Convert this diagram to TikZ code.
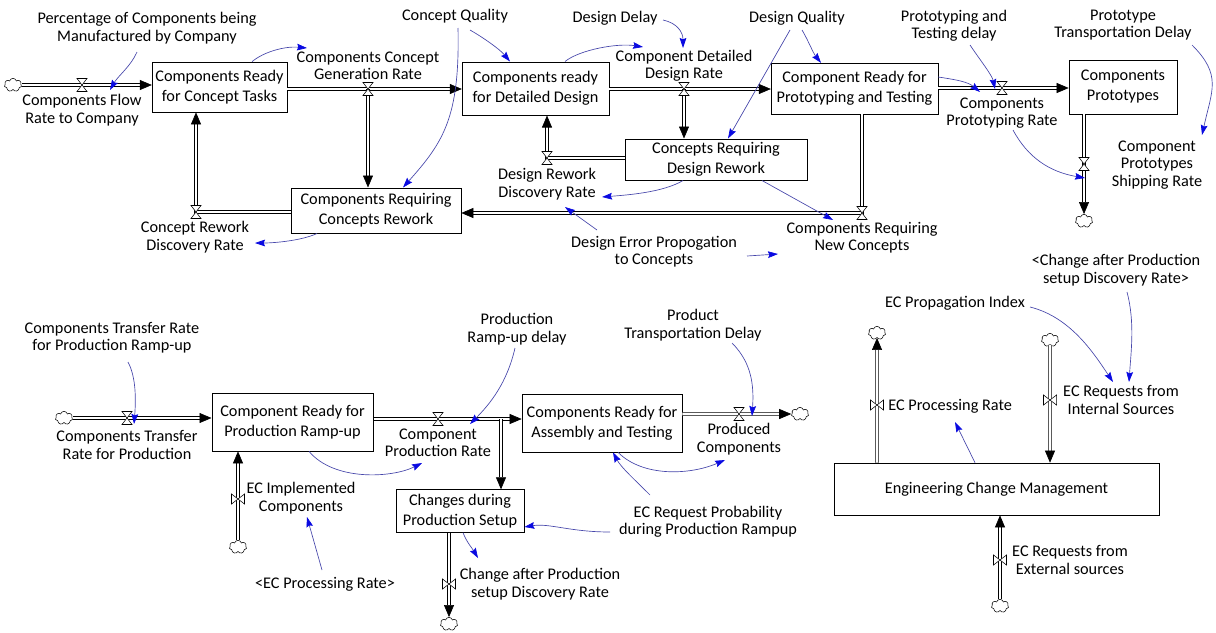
\documentclass[tikz,border=0pt]{standalone}
\usepackage{fontspec}
\setmainfont{Carlito}
\usetikzlibrary{arrows.meta,shapes.symbols}
\definecolor{linkline}{RGB}{70,70,170}
\definecolor{linkhead}{RGB}{10,10,225}

\begin{document}
\begin{tikzpicture}[x=0.75pt, y=-0.75pt,
    stock/.style={rectangle, draw, fill=white, line width=0.5pt, align=center, inner sep=1pt, font=\fontsize{12.2}{15}\selectfont},
    lbl/.style={align=center, inner sep=0pt, font=\fontsize{12.2}{13}\selectfont},
    pipe/.style={draw, line width=0.45pt, double=white, double distance=2pt, -{Triangle[length=9pt,width=7.5pt]}},
    infl/.style={draw=linkline, line width=0.5pt, -{Stealth[length=7.5pt,width=5pt,inset=1pt,color=linkhead]}},
    cloudy/.style={cloud, cloud puffs=7, draw, fill=white, line width=0.4pt, minimum width=13pt, minimum height=10pt, inner sep=0pt},
    valveh/.pic={\draw[fill=white, line width=0.4pt] (-5,-6.5) -- (5,-6.5) -- (-5,6.5) -- (5,6.5) -- cycle;},
    valvev/.pic={\draw[fill=white, line width=0.4pt] (-6.5,-5) -- (-6.5,5) -- (6.5,-5) -- (6.5,5) -- cycle;},
]
\useasboundingbox (0,0) rectangle (1216,632);

% Concept and design stocks
\node[stock, minimum width=101pt, minimum height=37.5pt] (cct) at (219.5,87) {Components Ready\\for Concept Tasks};
\node[stock, minimum width=110pt, minimum height=40pt] (crdd) at (535.5,88.5) {Components ready\\for Detailed Design};
\node[stock, minimum width=125pt, minimum height=38pt] (crpt) at (854.5,88.5) {Component Ready for\\Prototyping and Testing};
\node[stock, minimum width=81pt, minimum height=40.5pt] (cpro) at (1123,87) {Components\\Prototypes};
\node[stock, minimum width=136.5pt, minimum height=31pt] (crdr) at (716,159.5) {Concepts Requiring\\Design Rework};
\node[stock, minimum width=127.5pt, minimum height=34pt] (crcr) at (376,210.5) {Components Requiring\\Concepts Rework};

% Production stocks
\node[stock, minimum width=121pt, minimum height=43.5pt] (crpr) at (292.5,422) {Component Ready for\\Production Ramp-up};
\node[stock, minimum width=120pt, minimum height=43.5pt] (crat) at (602,423) {Components Ready for\\Assembly and Testing};
\node[stock, minimum width=96pt, minimum height=32pt] (cdps) at (460,511) {Changes during\\Production Setup};
\node[stock, minimum width=244pt, minimum height=39pt] (ecm) at (996.5,489) {Engineering Change Management};

% Clouds
\node[cloudy] (k1) at (13,85) {};
\node[cloudy] (k2) at (1084,221) {};
\node[cloudy] (k3) at (64,418) {};
\node[cloudy] (k4) at (800,414) {};
\node[cloudy] (k5) at (238,547) {};
\node[cloudy] (k6) at (449,624) {};
\node[cloudy] (k7) at (877,333) {};
\node[cloudy] (k8) at (1050,340) {};
\node[cloudy] (k9) at (1000,606) {};

% Valves
\coordinate (vFlow) at (82,85);
\coordinate (vGen) at (368,89);
\coordinate (vConRew) at (196,212);
\coordinate (vDet) at (684,89);
\coordinate (vDesRew) at (547,158);
\coordinate (vNewCon) at (862,213);
\coordinate (vProto) at (1002,88);
\coordinate (vShip) at (1084,164);
\coordinate (vTransfer) at (127,418);
\coordinate (vProd) at (438,419);
\coordinate (jProd) at (501,419);
\coordinate (vProduced) at (739,414);
\coordinate (vECImpl) at (238,499);
\coordinate (vChange) at (449,584);
\coordinate (vECProc) at (877,405);
\coordinate (vECInt) at (1050,400);
\coordinate (vECExt) at (1000,560);

% Rate labels
\node[lbl] (lFlowRate) at (82,110) {Components Flow\\Rate to Company};
\node[lbl] (lGenRate) at (368,66) {Components Concept\\Generation Rate};
\node[lbl] (lConRew) at (195,237) {Concept Rework\\Discovery Rate};
\node[lbl] (lDetRate) at (684,66) {Component Detailed\\Design Rate};
\node[lbl] (lDesRew) at (547,184) {Design Rework\\Discovery Rate};
\node[lbl] (lNewCon) at (862,238) {Components Requiring\\New Concepts};
\node[lbl] (lProtoRate) at (1002,113) {Components\\Prototyping Rate};
\node[lbl] (lShipRate) at (1157,165) {Component\\Prototypes\\Shipping Rate};
\node[lbl] (lTransfer) at (127,445) {Components Transfer\\Rate for Production};
\node[lbl] (lProdRate) at (438,443) {Component\\Production Rate};
\node[lbl] (lProduced) at (739,439) {Produced\\Components};
\node[lbl] (lECImpl) at (301,498) {EC Implemented\\Components};
\node[lbl] (lChangeDisc) at (540,584) {Change after Production\\setup Discovery Rate};
\node[lbl, anchor=west] (lECProc) at (888,406) {EC Processing Rate};
\node[lbl] (lECInt) at (1121,400) {EC Requests from\\Internal Sources};
\node[lbl] (lECExt) at (1070,560) {EC Requests from\\External sources};

% Auxiliaries
\node[lbl] (aPct) at (147,28) {Percentage of Components being\\Manufactured by Company};
\node[lbl] (aConQual) at (455,16) {Concept Quality};
\node[lbl] (aDesDelay) at (615,18) {Design Delay};
\node[lbl] (aDesQual) at (797,18) {Design Quality};
\node[lbl] (aProtoDelay) at (954,26) {Prototyping and\\Testing delay};
\node[lbl] (aTransDelay) at (1123,25) {Prototype\\Transportation Delay};
\node[lbl] (aErrProp) at (654,252) {Design Error Propogation\\to Concepts};
\node[lbl] (aChangeRef) at (1116,270) {<Change after Production\\setup Discovery Rate>};
\node[lbl] (aECProp) at (955,303) {EC Propagation Index};
\node[lbl] (aTransferRamp) at (112,338) {Components Transfer Rate\\for Production Ramp-up};
\node[lbl] (aRampDelay) at (517,329) {Production\\Ramp-up delay};
\node[lbl] (aProdTransDelay) at (693,325) {Product\\Transportation Delay};
\node[lbl] (aECProb) at (708,522) {EC Request Probability\\during Production Rampup};
\node[lbl] (aECProcRef) at (325,584) {<EC Processing Rate>};

% Flows, top
\draw[pipe] (k1.east) -- (k1.east -| cct.west);
\draw[pipe] (vGen -| cct.east) -- (vGen -| crdd.west);
\draw[pipe] (vGen) -- (vGen |- crcr.north);
\draw[pipe] (vConRew -| crcr.west) -- (vConRew) -- (vConRew |- cct.south);
\draw[pipe] (vDet -| crdd.east) -- (vDet -| crpt.west);
\draw[pipe] (vDet) -- (vDet |- crdr.north);
\draw[pipe] (vDesRew -| crdr.west) -- (vDesRew) -- (vDesRew |- crdd.south);
\draw[pipe] (vNewCon |- crpt.south) -- (vNewCon) -- (vNewCon -| crcr.east);
\draw[pipe] (vProto -| crpt.east) -- (vProto -| cpro.west);
\draw[pipe] (vShip |- cpro.south) -- (k2.north);

% Flows, bottom
\draw[pipe] (k3.east) -- (k3.east -| crpr.west);
\draw[pipe] (vProd -| crpr.east) -- (vProd -| crat.west);
\draw[pipe] (jProd) -- (jProd |- cdps.north);
\draw[pipe] (vProduced -| crat.east) -- (k4.west);
\draw[pipe] (k5.north) -- (k5 |- crpr.south);
\draw[pipe] (vChange |- cdps.south) -- (k6.north);
\draw[pipe] (vECProc |- ecm.north) -- (k7.south);
\draw[pipe] (k8.south) -- (k8 |- ecm.north);
\draw[pipe] (k9.north) -- (k9 |- ecm.south);

\foreach \v in {vFlow,vGen,vConRew,vDet,vDesRew,vNewCon,vProto,vShip,vTransfer,vProd,vProduced}
    \pic at (\v) {valveh};
\foreach \v in {vECImpl,vChange,vECProc,vECInt,vECExt}
    \pic at (\v) {valvev};

% Influences, top
\draw[infl] ([shift={(-10,24)}]aPct.center) .. controls +(-6,14) and +(8,-14) .. ([shift={(28,5)}]vFlow);
\draw[infl] ([shift={(32.5,0)}]cct.north) .. controls +(12,-10) and +(-22,-2) .. ([shift={(-61,-18)}]lGenRate.center);
\draw[infl] ([shift={(15,14)}]aConQual.center) .. controls +(14,8) and +(-10,-12) .. ([shift={(-25.5,0)}]crdd.north);
\draw[infl] ([shift={(3,12)}]aConQual.center) .. controls +(2,90) and +(40,-45) .. ([shift={(27,0)}]crcr.north);
\draw[infl] ([shift={(29.5,0)}]crdd.north) .. controls +(15,-12) and +(-25,-4) .. ([shift={(-41,-19)}]lDetRate.center);
\draw[infl] ([shift={(48,2)}]aDesDelay.center) .. controls +(14,3) and +(0,-16) .. ([shift={(-1,-18)}]lDetRate.center);
\draw[infl] ([shift={(5,12)}]aDesQual.center) .. controls +(6,10) and +(-8,-10) .. ([shift={(-33.5,0)}]crpt.north);
\draw[infl] ([shift={(-7,12)}]aDesQual.center) -- ([shift={(12,0)}]crdr.north);
\draw[infl] ([shift={(16,19)}]aProtoDelay.center) .. controls +(10,15) and +(-3,-14) .. ([shift={(-7,1)}]vProto);
\draw[infl] ([shift={(0,-11.5)}]crpt.east) .. controls +(20,3) and +(-12,-10) .. ([shift={(-22,-21)}]lProtoRate.center);
\draw[infl] ([shift={(69,20)}]aTransDelay.center) .. controls +(30,30) and +(10,-45) .. ([shift={(45,-30)}]lShipRate.center);
\draw[infl] ([shift={(11,17)}]lProtoRate.center) .. controls +(15,28) and +(-35,-6) .. ([shift={(1,14)}]vShip);
\draw[infl] ([shift={(-33,0)}]crdr.south) .. controls +(-20,12) and +(25,-2) .. ([shift={(55,13)}]lDesRew.center);
\draw[infl] ([shift={(46,0)}]crdr.south) -- ([shift={(-29,-18)}]lNewCon.center);
\draw[infl] ([shift={(-59,0)}]crcr.south) .. controls +(-15,7) and +(20,0) .. ([shift={(60,6)}]lConRew.center);
\draw[infl] ([shift={(-57,-22)}]aErrProp.center) -- ([shift={(18,23)}]lDesRew.center);
\draw[infl] ([shift={(93,4)}]aErrProp.center) -- ([shift={(-84,16)}]lNewCon.center);

% Influences, bottom
\draw[infl] ([shift={(16,24)}]aTransferRamp.center) .. controls +(8,15) and +(2,-25) .. ([shift={(7,6)}]vTransfer);
\draw[infl] ([shift={(16.5,0)}]crpr.south) .. controls +(25,30) and +(-30,15) .. ([shift={(-16,20)}]lProdRate.center);
\draw[infl] ([shift={(-2,19)}]aRampDelay.center) .. controls +(-8,35) and +(20,-20) .. ([shift={(32,5)}]vProd);
\draw[infl] ([shift={(39,18)}]aProdTransDelay.center) .. controls +(20,20) and +(2,-30) .. ([shift={(13,2)}]vProduced);
\draw[infl] ([shift={(16,0)}]crat.south) .. controls +(25,25) and +(-35,15) .. ([shift={(-14,21)}]lProduced.center);
\draw[infl] ([shift={(-58,-27)}]aECProb.center) .. controls +(-15,-15) and +(8,15) .. ([shift={(11,0)}]crat.south);
\draw[infl] ([shift={(-98,10)}]aECProb.center) .. controls +(-40,0) and +(25,-4) .. ([shift={(0,16)}]cdps.east);
\draw[infl] ([shift={(3,0)}]cdps.south) .. controls +(4,10) and +(-6,-10) .. ([shift={(-62,-26)}]lChangeDisc.center);
\draw[infl] ([shift={(-3,-14)}]aECProcRef.center) -- ([shift={(6,19)}]lECImpl.center);
\draw[infl] ([shift={(-21.5,0)}]ecm.north) -- ([shift={(67,16)}]lECProc.west);
\draw[infl] ([shift={(75,4)}]aECProp.center) .. controls +(40,10) and +(-20,-30) .. ([shift={(-8,-18)}]lECInt.center);
\draw[infl] ([shift={(11,22)}]aChangeRef.center) .. controls +(8,30) and +(2,-30) .. ([shift={(8,-18)}]lECInt.center);
\end{tikzpicture}
\end{document}
